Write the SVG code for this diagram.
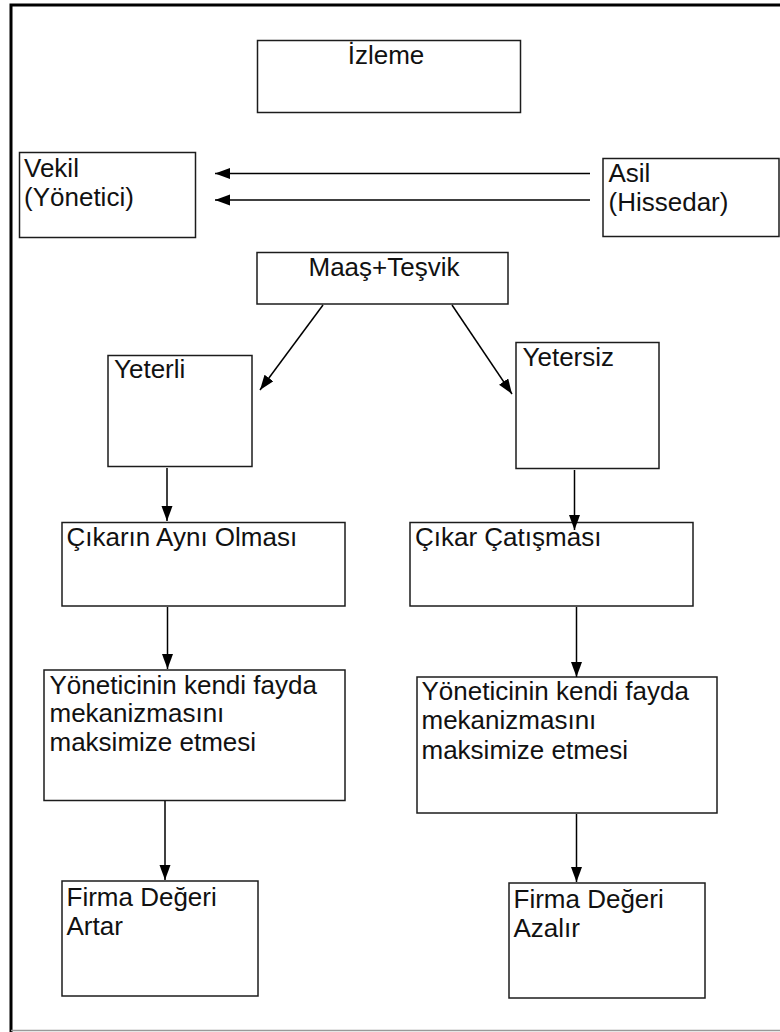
<svg xmlns="http://www.w3.org/2000/svg" width="780" height="1032" viewBox="0 0 780 1032">
<defs>
<marker id="ah" markerUnits="userSpaceOnUse" markerWidth="16" markerHeight="12" refX="15" refY="5.5" orient="auto">
<path d="M0,0 L15,5.5 L0,11 Z" fill="#000"/>
</marker>
<style>
.box{fill:#fff;stroke:#1c1c1c;stroke-width:1.5}
.t{font-family:"Liberation Sans",Arial,sans-serif;font-size:26px;fill:#111}
.c{text-anchor:middle}
.con{stroke:#000;stroke-width:1.5;fill:none;marker-end:url(#ah)}
</style>
</defs>
<rect x="0" y="0" width="780" height="1032" fill="#fff"/>
<g id="frame">
<path d="M11,1032 V5 H780" fill="none" stroke="#000" stroke-width="3"/>
<line x1="11" y1="1030.5" x2="780" y2="1030.5" stroke="#999" stroke-width="1.5"/>
</g>
<g id="izleme"><rect class="box" x="257.5" y="40.5" width="263" height="72"/><text class="t c" x="386" y="63.5">İzleme</text></g>
<g id="vekil"><rect class="box" x="19.5" y="152.5" width="176" height="85"/><text class="t" x="24" y="176.5">Vekil</text><text class="t" x="24" y="205.5">(Yönetici)</text></g>
<g id="asil"><rect class="box" x="603" y="158.5" width="176" height="78"/><text class="t" x="608.5" y="181.5">Asil</text><text class="t" x="608.5" y="210.5">(Hissedar)</text></g>
<g id="maas"><rect class="box" x="257" y="252.5" width="251" height="51.5"/><text class="t c" x="384" y="275.5">Maaş+Teşvik</text></g>
<g id="yeterli"><rect class="box" x="108" y="355.5" width="144" height="111"/><text class="t" x="114" y="377.5">Yeterli</text></g>
<g id="yetersiz"><rect class="box" x="516" y="342.5" width="143" height="126"/><text class="t" x="522.5" y="365.5">Yetersiz</text></g>
<g id="cikarin"><rect class="box" x="62" y="522.5" width="283" height="83.5"/><text class="t" x="66.5" y="545.5">Çıkarın Aynı Olması</text></g>
<g id="catisma"><rect class="box" x="410" y="522.5" width="283" height="83.5"/><text class="t" x="415" y="545.5">Çıkar Çatışması</text></g>
<g id="yonetici-sol"><rect class="box" x="44" y="670" width="301" height="130.5"/><text class="t" x="49.5" y="693.5"><tspan x="49.5">Yöneticinin kendi fayda</tspan><tspan x="49.5" y="722">mekanizmasını</tspan><tspan x="49.5" y="750.5">maksimize etmesi</tspan></text></g>
<g id="yonetici-sag"><rect class="box" x="417" y="677" width="300" height="136"/><text class="t" x="421.5" y="699.5"><tspan x="421.5">Yöneticinin kendi fayda</tspan><tspan x="421.5" y="729">mekanizmasını</tspan><tspan x="421.5" y="758.5">maksimize etmesi</tspan></text></g>
<g id="artar"><rect class="box" x="62" y="881" width="196" height="115"/><text class="t" x="66.5" y="905.5">Firma Değeri</text><text class="t" x="66.5" y="934.5">Artar</text></g>
<g id="azalir"><rect class="box" x="509" y="883" width="196" height="115"/><text class="t" x="513.5" y="908">Firma Değeri</text><text class="t" x="513.5" y="936.5">Azalır</text></g>
<g id="connectors">
<line class="con" x1="590" y1="173.5" x2="215" y2="173.5"/>
<line class="con" x1="590" y1="200" x2="215" y2="200" stroke="#444"/>
<line class="con" x1="323" y1="305" x2="260" y2="390"/>
<line class="con" x1="452" y1="305" x2="512" y2="394"/>
<line class="con" x1="167" y1="468" x2="167" y2="521"/>
<line class="con" x1="574.5" y1="470" x2="574.5" y2="530"/>
<line class="con" x1="167.5" y1="607" x2="167.5" y2="669"/>
<line class="con" x1="576.5" y1="607" x2="576.5" y2="677"/>
<line class="con" x1="165" y1="801" x2="165" y2="880"/>
<line class="con" x1="576.5" y1="814" x2="576.5" y2="882"/>
</g>
</svg>
